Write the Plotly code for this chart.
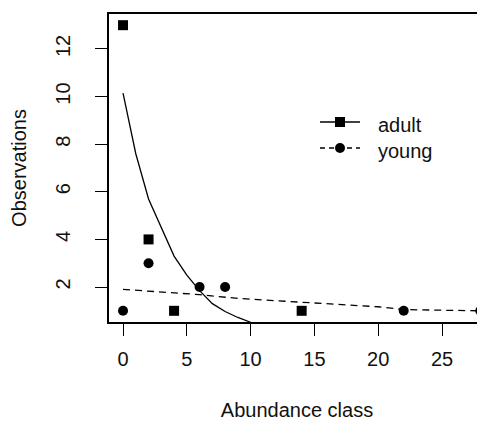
import plotly.graph_objects as go

# Observed points
adult_x = [0, 2, 4, 14]
adult_y = [13, 4, 1, 1]
young_x = [0, 2, 6, 8, 22, 28]
young_y = [1, 3, 2, 2, 1, 1]

# Fitted curves
adult_fit_x = [0, 1, 2, 3, 4, 5, 6, 7, 8, 9, 10]
adult_fit_y = [10.15, 7.6, 5.7, 4.5, 3.3, 2.5, 1.85, 1.3, 0.97, 0.72, 0.52]
young_fit_x = [0, 3, 6, 9, 12, 15, 18, 20, 22, 25, 27, 28]
young_fit_y = [1.90, 1.80, 1.68, 1.52, 1.42, 1.33, 1.24, 1.17, 1.05, 1.04, 1.03, 1.0]

x_ticks = [0, 5, 10, 15, 20, 25]
y_ticks = [2, 4, 6, 8, 10, 12]
legend_names = ["adult", "young"]

FONT = "Liberation Sans, Arial, sans-serif"
TXT = "#111111"

# The page body has an 8px default margin; the figure is sized so that the
# plotting area lands at page pixels x 109..485, y 14..322.
OFF = 8
W, H = 485 - OFF, 421 - OFF
L, R, T, B = 109 - OFF, 0, 14 - OFF, 421 - 322
PW, PH = W - L - R, H - T - B


def px(xpage):
    return (xpage - OFF - L) / PW


def py(ypage):
    return (H - B - (ypage - OFF)) / PH


fig = go.Figure()
fig.add_trace(go.Scatter(x=adult_fit_x, y=adult_fit_y, mode="lines",
                         line=dict(color="black", width=1.3), showlegend=False))
fig.add_trace(go.Scatter(x=young_fit_x, y=young_fit_y, mode="lines",
                         line=dict(color="black", width=1.3, dash="7px,5px"), showlegend=False))
fig.add_trace(go.Scatter(x=adult_x, y=adult_y, mode="markers", name="adult",
                         marker=dict(symbol="square", size=10, color="black"), showlegend=False))
fig.add_trace(go.Scatter(x=young_x, y=young_y, mode="markers", name="young",
                         marker=dict(symbol="circle", size=10, color="black"), showlegend=False))

# Hand-drawn legend (R style)
shapes = []
annotations = []
rows = [(122, "solid", "square"), (148, "5px,4px", "circle")]
for name, (yrow, dash, sym) in zip(legend_names, rows):
    shapes.append(dict(type="line", xref="paper", yref="paper",
                       x0=px(320), x1=px(360), y0=py(yrow), y1=py(yrow),
                       line=dict(color="black", width=1.3, dash=dash)))
    shapes.append(dict(type="rect" if sym == "square" else "circle",
                       xref="paper", yref="paper",
                       x0=px(335), x1=px(345), y0=py(yrow + 5), y1=py(yrow - 5),
                       fillcolor="black", line=dict(color="black", width=0)))
    annotations.append(dict(text=name, xref="paper", yref="paper",
                            x=px(376), y=py(yrow + 3), xanchor="left", yanchor="middle",
                            showarrow=False, font=dict(size=20, family=FONT, color=TXT)))

fig.update_layout(
    width=W, height=H,
    margin=dict(l=L, r=R, t=T, b=B),
    paper_bgcolor="white", plot_bgcolor="white",
    font=dict(family=FONT, size=20, color=TXT),
    showlegend=False,
    shapes=shapes, annotations=annotations,
    xaxis=dict(range=[-1.1, 28.37], tickvals=x_ticks, ticks="outside", ticklen=12,
               tickwidth=1.3, tickcolor="black", showline=True, mirror=True,
               linecolor="black", linewidth=1.5, showgrid=False, zeroline=False,
               automargin=False, ticklabelstandoff=6,
               title=dict(text="Abundance class", standoff=38,
                          font=dict(size=20, family=FONT, color=TXT))),
    yaxis=dict(range=[0.53, 13.47], tickvals=y_ticks, ticks="outside", ticklen=12,
               tickwidth=1.3, tickcolor="black", tickangle=-90, showline=True,
               linecolor="black", linewidth=1.5, showgrid=False, zeroline=False,
               automargin=False, ticklabelstandoff=17,
               title=dict(text="Observations", standoff=20,
                          font=dict(size=20, family=FONT, color=TXT))),
)

fig.write_html("out.html")
